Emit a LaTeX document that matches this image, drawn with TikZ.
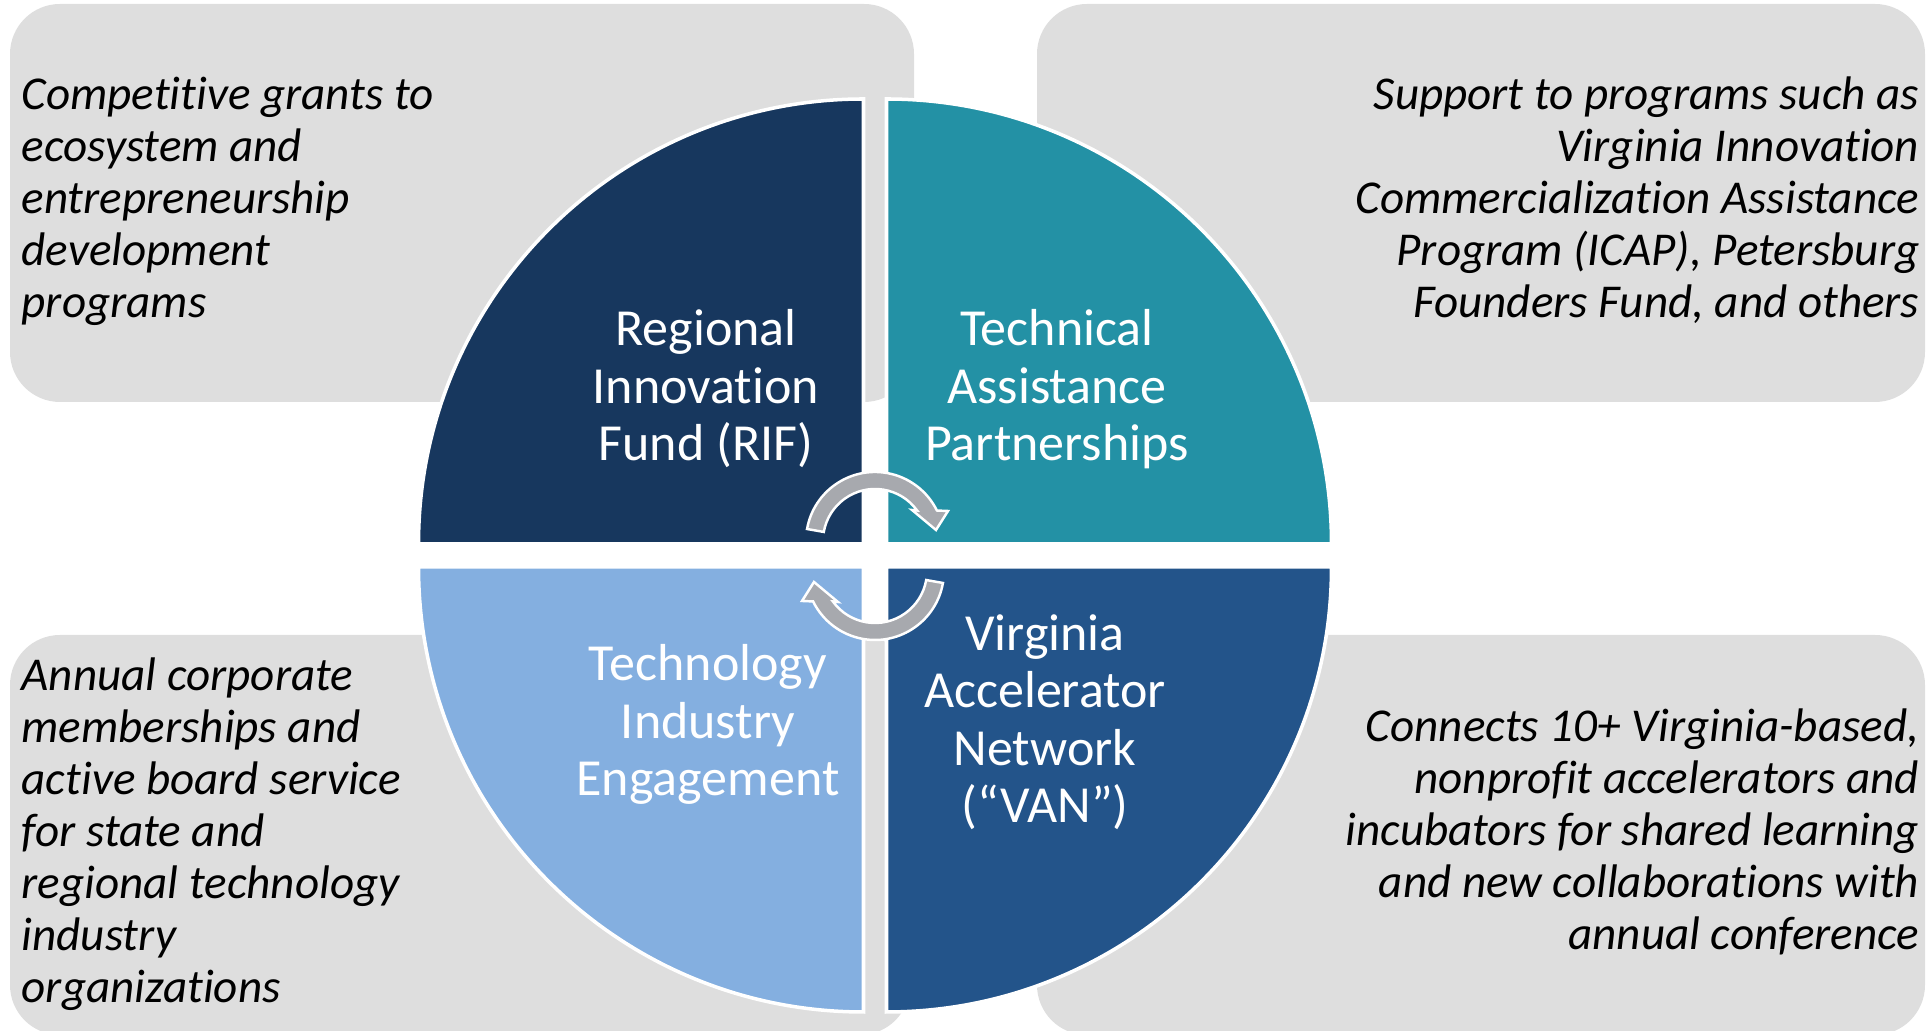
\documentclass[tikz,border=0pt]{standalone}
\usepackage{fontspec}
\setmainfont{Carlito}[Ligatures=NoCommon]
\usepackage{xcolor}
\usepackage{tikz}
\definecolor{rifblue}{HTML}{17375E}
\definecolor{tapteal}{HTML}{2391A5}
\definecolor{tiesky}{HTML}{84AFE0}
\definecolor{vanblue}{HTML}{23548A}
\definecolor{panelgrey}{HTML}{DEDEDE}
\definecolor{cyclegrey}{HTML}{A7A9AE}

\tikzset{
  panel/.style={fill=panelgrey, rounded corners=0.5cm},
  slice/.style={draw=white, line width=1pt},
  cyclearrow/.style={fill=cyclegrey, draw=white, line width=0.7pt},
  notetext/.style={inner sep=0pt, font=\itshape\fontsize{13.4}{14.8}\selectfont},
  quadtext/.style={inner sep=0pt, anchor=base, align=center, text=white,
    font=\fontsize{14.8}{16.4}\selectfont}
}

\begin{document}
\begin{tikzpicture}
\useasboundingbox (0,0) rectangle (19.27,10.31);
% grey panels behind the circle
\fill[panel] (0.10,6.29) rectangle (9.14,10.27);
\fill[panel] (10.37,6.29) rectangle (19.25,10.27);
\fill[panel] (0.10,-0.04) rectangle (9.10,3.96);
\fill[panel] (10.37,-0.04) rectangle (19.25,3.96);

% four quarters, centre (8.75,4.755), r = 4.45
\filldraw[slice, fill=rifblue] (8.635,4.87) -- (4.185,4.87) arc[start angle=180, end angle=90, radius=4.45] -- cycle;
\filldraw[slice, fill=tapteal] (8.865,4.87) -- (8.865,9.32) arc[start angle=90, end angle=0, radius=4.45] -- cycle;
\filldraw[slice, fill=tiesky] (8.635,4.64) -- (8.635,0.19) arc[start angle=270, end angle=180, radius=4.45] -- cycle;
\filldraw[slice, fill=vanblue] (8.865,4.64) -- (13.315,4.64) arc[start angle=0, end angle=-90, radius=4.45] -- cycle;

% the two turning arrows in the middle
\foreach \yy/\ang in {4.90/0, 4.60/180}
  \filldraw[cyclearrow, shift={(8.75,\yy)}, rotate=\ang]
    (170:0.69) arc[start angle=170, end angle=26.2, radius=0.69]
    -- (0.73,0.30) -- (0.61,0.11) -- (0.37,0.31)
    -- (35.9:0.52) arc[start angle=35.9, end angle=170, radius=0.52] -- cycle;

% quarter labels (placed by the baseline of their last line)
\node[quadtext] (rif) at (7.06,5.70) {Regional\\Innovation\\Fund (RIF)};
\node[quadtext] (tap) at (10.57,5.70) {Technical\\Assistance\\Partnerships};
\node[quadtext] (tie) at (7.08,2.35) {Technology\\Industry\\Engagement};
\node[quadtext] (van) at (10.45,2.08) {Virginia\\Accelerator\\Network\\(“VAN”)};

% descriptions
\node[notetext, anchor=base west, align=left] (grants) at (0.21,7.13)
  {Competitive grants to\\ecosystem and\\entrepreneurship\\development\\programs};
\node[notetext, anchor=base east, align=right] (support) at (19.20,7.13)
  {Support to programs such as\\Virginia Innovation\\Commercialization Assistance\\Program (ICAP), Petersburg\\Founders Fund, and others};
\node[notetext, anchor=base west, align=left] (members) at (0.21,0.28)
  {Annual corporate\\memberships and\\active board service\\for state and\\regional technology\\industry\\organizations};
\node[notetext, anchor=base east, align=right] (connects) at (19.20,0.81)
  {Connects 10+ Virginia-based,\\nonprofit accelerators and\\incubators for shared learning\\and new collaborations with\\annual conference};
\end{tikzpicture}
\end{document}
